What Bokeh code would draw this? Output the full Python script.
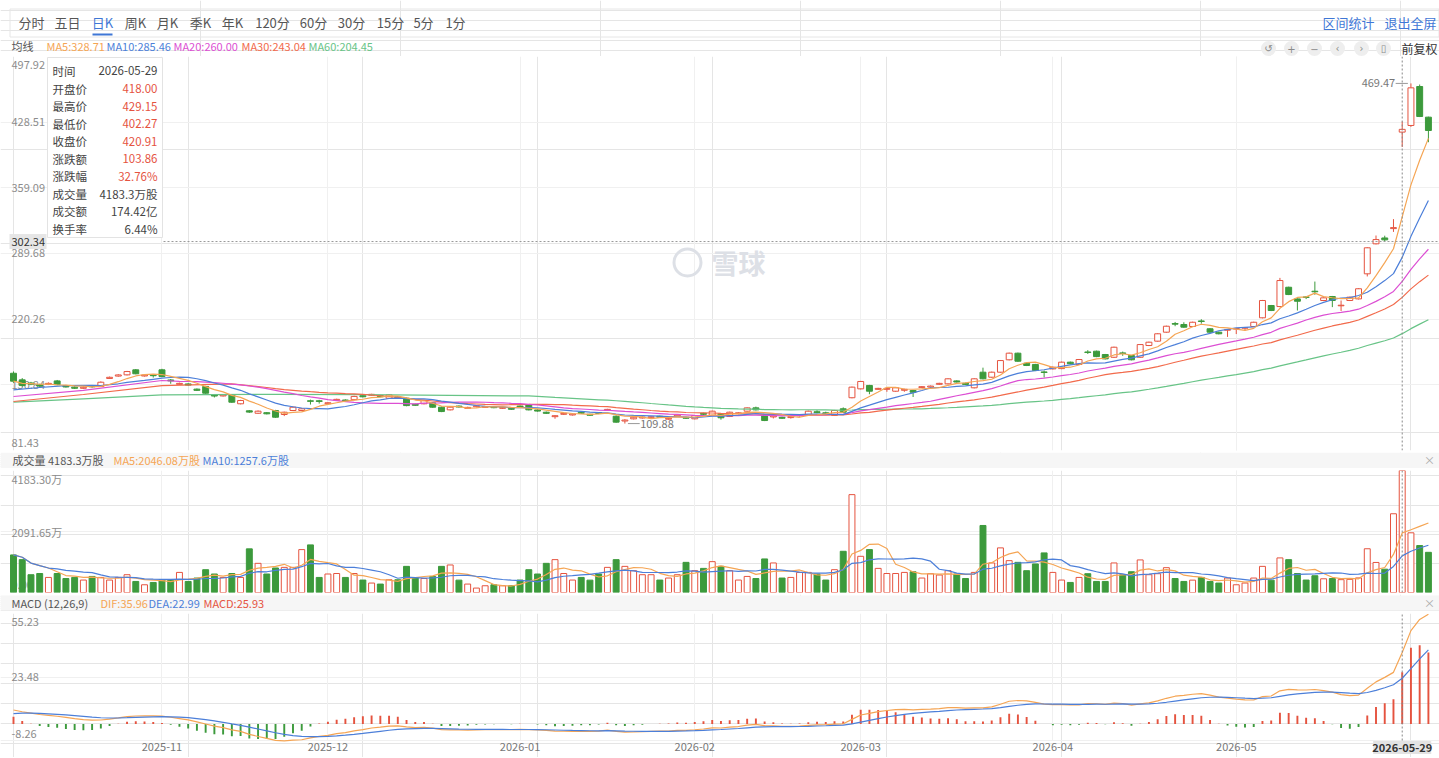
import numpy as np
import pandas as pd
from bokeh.plotting import figure
from bokeh.layouts import column
from bokeh.models import Range1d, FixedTicker, Grid, Span, ColumnDataSource
from bokeh.embed import file_html
from bokeh.resources import INLINE
from bokeh.core.properties import value

FONT = "Noto Sans CJK SC"
W = 1439

# ---------------- data ----------------
opens = [163.1, 156.1, 152.8, 150.8, 151.4, 155.0, 149.8, 148.4, 147.2, 149.3,
         149.0, 157.6, 160.1, 161.4, 166.7, 160.2, 161.0, 166.7, 156.0, 151.4,
         151.8, 146.3, 149.1, 140.2, 139.1, 140.3, 130.8, 123.4, 120.8, 121.4,
         123.7, 119.5, 123.7, 123.7, 134.0, 134.0, 130.9, 134.5, 134.8, 135.2,
         139.4, 139.8, 139.3, 136.7, 138.2, 136.7, 130.2, 130.8, 131.8, 127.2,
         124.4, 128.4, 126.0, 127.7, 127.0, 127.7, 126.0, 126.0, 128.4, 129.7,
         124.3, 121.9, 117.2, 119.7, 119.0, 121.8, 119.7, 121.5, 123.9, 117.7,
         112.6, 114.9, 115.8, 116.1, 117.6, 114.5, 117.9, 116.5, 114.9, 120.7,
         118.5, 120.2, 117.4, 120.3, 123.0, 126.5, 118.4, 116.9, 116.5, 116.2,
         118.0, 118.5, 122.4, 121.3, 118.5, 125.5, 137.2, 146.6, 150.2, 146.1,
         146.1, 144.1, 145.1, 144.8, 147.9, 148.5, 151.4, 151.9, 155.0, 152.5,
         147.7, 164.2, 158.9, 164.2, 177.3, 184.3, 173.7, 172.4, 164.5, 167.7,
         168.0, 174.8, 172.4, 185.6, 186.4, 182.9, 180.0, 184.6, 181.8, 180.0,
         192.4, 197.0, 206.5, 215.6, 214.6, 212.5, 218.4, 210.1, 206.5, 208.6,
         209.8, 210.7, 212.5, 221.7, 234.7, 233.6, 254.0, 241.7, 243.8, 249.8,
         240.0, 244.2, 234.4, 240.0, 241.7, 268.2, 299.9, 306.1, 316.0, 418.00,
         425.0, 466.2, 433.8]
highs = [165.0, 158.0, 154.0, 152.0, 153.4, 156.0, 150.8, 149.3, 149.2, 150.6,
         154.5, 159.6, 162.0, 165.6, 167.5, 162.0, 162.3, 167.8, 157.0, 153.2,
         152.6, 147.0, 149.8, 140.8, 140.8, 141.0, 135.0, 124.2, 123.8, 122.0,
         124.4, 122.5, 127.9, 126.2, 135.2, 135.0, 132.6, 136.2, 135.5, 139.3,
         140.0, 141.4, 140.0, 141.0, 138.9, 137.4, 131.0, 135.0, 132.5, 127.9,
         127.9, 129.0, 127.7, 129.3, 128.6, 128.3, 127.6, 126.6, 129.0, 130.4,
         125.0, 122.6, 118.8, 121.3, 120.6, 122.4, 120.3, 122.1, 125.5, 118.5,
         114.5, 117.3, 117.4, 117.7, 118.2, 116.1, 119.5, 117.1, 119.0, 121.3,
         123.6, 120.8, 122.5, 121.9, 127.1, 127.8, 119.0, 118.5, 117.1, 117.8,
         119.6, 123.6, 124.0, 122.5, 124.3, 127.0, 149.0, 155.0, 150.8, 147.7,
         148.5, 148.3, 146.7, 145.4, 149.5, 150.1, 153.0, 157.8, 155.6, 153.1,
         157.8, 169.0, 164.8, 177.1, 184.9, 184.9, 174.3, 173.0, 166.0, 170.1,
         175.4, 175.4, 178.2, 187.5, 187.0, 183.5, 191.2, 186.0, 182.4, 194.0,
         196.5, 205.4, 213.4, 217.3, 217.0, 217.6, 220.2, 210.7, 207.1, 209.8,
         211.0, 212.0, 217.6, 240.6, 235.3, 263.9, 254.6, 242.3, 244.5, 260.0,
         243.4, 244.8, 240.0, 244.1, 253.0, 296.3, 308.7, 308.5, 326.0, 429.15,
         469.47, 468.3, 434.3]
lows = [153.0, 149.0, 150.5, 148.8, 150.6, 150.4, 148.0, 146.5, 146.6, 147.8,
        148.5, 157.0, 159.5, 160.8, 162.0, 159.6, 158.5, 159.0, 152.0, 150.8,
        150.0, 144.3, 141.4, 137.5, 138.5, 131.8, 130.2, 121.2, 120.2, 119.6,
        116.0, 117.8, 123.2, 123.0, 130.0, 131.0, 130.3, 134.0, 133.2, 134.6,
        137.6, 139.2, 137.8, 136.1, 136.6, 128.2, 128.6, 130.2, 126.6, 122.0,
        123.8, 126.8, 125.4, 127.1, 126.4, 126.1, 125.4, 124.4, 126.8, 123.8,
        122.5, 120.0, 115.0, 119.0, 118.4, 120.2, 118.1, 119.9, 123.3, 110.8,
        109.88, 114.3, 115.2, 115.5, 116.0, 113.9, 117.3, 114.9, 114.3, 119.1,
        118.0, 114.0, 116.8, 119.7, 122.4, 123.8, 112.5, 115.3, 114.9, 115.2,
        117.4, 118.0, 120.8, 119.7, 118.0, 121.3, 136.6, 146.0, 140.9, 145.5,
        143.5, 143.5, 143.5, 138.0, 147.3, 147.9, 150.8, 151.3, 153.2, 150.7,
        147.1, 156.6, 158.3, 163.6, 176.7, 175.2, 170.7, 165.4, 158.5, 167.1,
        167.4, 172.5, 171.8, 183.5, 180.1, 177.7, 179.4, 181.5, 176.7, 179.4,
        191.8, 196.4, 205.9, 212.8, 211.2, 211.9, 215.5, 205.9, 204.2, 201.5,
        204.5, 208.5, 211.9, 221.1, 228.8, 233.0, 245.7, 229.4, 241.5, 246.0,
        239.4, 233.0, 228.9, 239.4, 241.1, 265.4, 299.3, 302.5, 312.5, 402.27,
        423.5, 433.9, 407.3]
closes = [154.7, 150.1, 151.5, 149.6, 152.4, 151.0, 148.6, 147.2, 148.3, 148.8,
          153.6, 158.8, 161.3, 164.9, 162.5, 161.2, 160.5, 159.6, 155.0, 152.4,
          150.6, 145.0, 142.0, 139.0, 140.1, 132.5, 134.3, 122.0, 123.0, 120.2,
          116.6, 121.9, 127.2, 125.5, 133.4, 133.3, 131.9, 135.5, 133.8, 138.6,
          138.2, 140.8, 138.3, 140.3, 137.2, 128.9, 129.2, 134.3, 127.2, 122.6,
          127.2, 127.4, 127.0, 128.7, 128.0, 126.7, 127.0, 125.0, 127.4, 124.4,
          123.1, 120.7, 118.2, 120.7, 120.0, 120.8, 118.7, 120.5, 124.9, 111.4,
          113.6, 116.6, 116.8, 117.1, 116.6, 115.5, 118.9, 115.5, 118.4, 119.7,
          123.0, 116.0, 121.9, 121.3, 126.5, 124.4, 113.1, 117.9, 115.5, 117.2,
          119.0, 123.0, 121.4, 120.3, 123.7, 121.9, 148.4, 154.4, 144.1, 147.1,
          147.1, 147.7, 146.1, 143.0, 148.9, 149.5, 152.4, 157.2, 153.8, 151.3,
          157.2, 157.2, 164.2, 176.5, 184.3, 175.8, 171.3, 166.0, 163.9, 169.5,
          174.8, 173.1, 177.6, 185.0, 180.7, 178.3, 190.6, 184.0, 177.3, 193.4,
          195.9, 204.8, 212.8, 215.0, 211.8, 217.0, 217.8, 206.5, 204.8, 209.2,
          210.4, 211.3, 217.0, 240.0, 229.4, 261.1, 246.3, 239.2, 243.2, 249.2,
          242.8, 240.0, 235.0, 243.5, 252.4, 295.7, 304.4, 304.1, 317.05, 420.91,
          464.8, 434.5, 419.7]
volumes = [1289, 1127, 610, 651, 517, 651, 479, 517, 427, 551,
           517, 427, 517, 610, 379, 265, 345, 437, 427, 689,
           379, 496, 782, 634, 517, 651, 517, 1496, 1000, 634,
           841, 862, 862, 1471, 1633, 517, 634, 651, 517, 651,
           427, 324, 289, 437, 437, 896, 496, 479, 551, 896,
           944, 424, 289, 152, 231, 265, 231, 231, 427, 782,
           634, 1000, 1127, 651, 427, 517, 424, 634, 862, 1127,
           896, 748, 610, 610, 427, 496, 610, 1034, 748, 827,
           1058, 896, 748, 427, 551, 479, 1151, 1013, 496, 517,
           689, 689, 634, 427, 782, 1413, 3356, 1241, 1471, 827,
           651, 651, 689, 712, 496, 644, 600, 748, 634, 479,
           689, 2298, 1013, 1530, 1092, 1034, 748, 979, 1358, 689,
           427, 345, 517, 644, 379, 379, 1013, 610, 712, 1117,
           610, 644, 851, 479, 379, 424, 517, 379, 324, 496,
           265, 324, 496, 896, 424, 1186, 1127, 651, 427, 575,
           470, 480, 440, 450, 500, 1500, 1030, 800, 2700, 4183.3,
           2047, 1609, 1378]

# moving-average lead-in values (before a full window exists)
ma10_lead_idx = [0, 3, 6]
ma10_lead = [145.6, 148.0, 150.1]
ma20_lead_idx = [0, 8, 17]
ma20_lead = [138.5, 144.9, 155.4]
ma30_lead_idx = [0, 8, 17, 25]
ma30_lead = [133.2, 140.6, 150.1, 151.9]
ma60_lead_idx = [0, 8, 17, 30, 40, 50]
ma60_lead = [132.5, 136.1, 140.3, 140.8, 140.5, 139.6]
dif_start = 7.0
dea_start = 5.2

month_ticks = [17, 36, 58, 78, 97, 119, 140]
month_labels = ["2025-11", "2025-12", "2026-01", "2026-02", "2026-03", "2026-04", "2026-05"]
cross_idx = 159
cross_date = "2026-05-29"
cross_price = 302.34
price_ticks = [81.43, 150.84, 220.26, 289.68, 359.09, 428.51, 497.92]
vol_ticks = [0.0, 2091.65, 4183.30]
vol_tick_labels = ["0.00", "2091.65万", "4183.30万"]
macd_ticks = [-8.26, 23.48, 55.23]
max_idx, max_val = 160, 469.47
min_idx, min_val = 70, 109.88

tabs = ["分时", "五日", "日K", "周K", "月K", "季K", "年K", "120分", "60分", "30分", "15分", "5分", "1分"]
tab_x = [31, 67, 102, 135, 167, 200, 232, 272, 313, 351, 390, 423, 455]

# ---------------- colours ----------------
RED = "#e5533f"
GREEN = "#3c9a3c"
GRAY = "#8c8c8c"
GRID = "#f0f0f0"
C_MA5 = "#f5a554"
C_MA10 = "#4c7fd9"
C_MA20 = "#dc4fd3"
C_MA30 = "#f26a4b"
C_MA60 = "#68c487"
BLUE_LINK = "#3f77d6"

n = len(closes)
idx = np.arange(n)
cs = pd.Series(closes)

def ma_line(period, lead_idx, lead_vals):
    roll = cs.rolling(period).mean()
    xs_ = list(lead_idx) + list(range(period - 1, n))
    ys_ = list(lead_vals) + list(roll.values[period - 1:])
    return xs_, ys_

ma5 = cs.rolling(5, min_periods=1).mean().values
ma10x, ma10y = ma_line(10, ma10_lead_idx, ma10_lead)
ma20x, ma20y = ma_line(20, ma20_lead_idx, ma20_lead)
ma30x, ma30y = ma_line(30, ma30_lead_idx, ma30_lead)
ma60x, ma60y = ma_line(60, ma60_lead_idx, ma60_lead)

vs = pd.Series(volumes)
vma5 = vs.rolling(5, min_periods=1).mean().values
vma10 = vs.rolling(10, min_periods=1).mean().values

# MACD (12,26,9)
a12, a26, a9 = 2 / 13, 2 / 27, 2 / 10
e12 = closes[0]
e26 = closes[0] - dif_start
dea = dea_start
difs, deas = [], []
for i, cl in enumerate(closes):
    if i > 0:
        e12 += a12 * (cl - e12)
        e26 += a26 * (cl - e26)
    dif = e12 - e26
    if i > 0:
        dea += a9 * (dif - dea)
    difs.append(dif)
    deas.append(dea)
difs = np.array(difs)
deas = np.array(deas)
hist = 2 * (difs - deas)

# ---------------- geometry helpers ----------------
SP = 8.734
XS = -13.0 / SP
XE = XS + W / SP

def px2i(px):
    return XS + px / SP

P_TOP, P_BOT, P_Y0, P_H = 497.92, 81.43, 56, 394
def py2p(py):
    return P_TOP - (py - P_Y0) * (P_TOP - P_BOT) / P_H

V_TOP = vol_ticks[-1]
def py2v(py):
    return V_TOP * (592 - py) / 122.0

M_LO, M_HI = macd_ticks[0], macd_ticks[-1]
UPP = (M_HI - M_LO) / 127.0          # value per pixel in the MACD plot
M_START = M_LO - 17 * UPP            # 17px strip below for the date labels
def py2m(py):
    return M_HI - (py - 613) * UPP

def txt(p, x, y, s, color, size, align="left", baseline="middle", yoff=0, style="normal"):
    p.text(x=[x], y=[y], text=[s], text_color=color, text_font=value(FONT),
           text_font_size=f"{size}px", text_align=align, text_baseline=baseline,
           y_offset=yoff, text_font_style=style)

def base_fig(h, xr, yr, **kw):
    args = dict(width=W, height=h, x_range=xr, y_range=yr, output_backend="svg",
                toolbar_location=None, x_axis_location=None, y_axis_location=None,
                min_border_left=0, min_border_right=0, min_border_top=0, min_border_bottom=0,
                outline_line_color=None, background_fill_color="white", border_fill_color="white")
    args.update(kw)
    return figure(**args)

def vgrid(extent=None):
    kw = dict(dimension=0, ticker=FixedTicker(ticks=month_ticks), grid_line_color=GRID)
    if extent is not None:
        try:
            return Grid(cross_bounds=extent, **kw)
        except Exception:
            pass
    return Grid(**kw)

xr = Range1d(XS, XE)

# ---------------- header ----------------
hdr = base_fig(56, Range1d(0, W), Range1d(56, 0))
hdr.quad(left=[9.5], right=[1438.5], top=[8.5], bottom=[36.5], fill_color=None, line_color="#e6e6e6")
hdr.text(x=tab_x, y=[22] * len(tabs), text=tabs,
         text_color=["#3f77d6" if t == "日K" else "#555555" for t in tabs],
         text_font=value(FONT), text_font_size="13px", text_align="center", text_baseline="middle")
hdr.segment(x0=[92], y0=[34], x1=[112], y1=[34], line_color="#3f77d6", line_width=2)
txt(hdr, 1322, 22, "区间统计", BLUE_LINK, 13)
txt(hdr, 1384, 22, "退出全屏", BLUE_LINK, 13)
txt(hdr, 11, 45, "均线", "#555555", 11)
txt(hdr, 46, 45, "MA5:328.71", C_MA5, 11)
txt(hdr, 106, 45, "MA10:285.46", C_MA10, 11)
txt(hdr, 173, 45, "MA20:260.00", C_MA20, 11)
txt(hdr, 241, 45, "MA30:243.04", C_MA30, 11)
txt(hdr, 308, 45, "MA60:204.45", C_MA60, 11)
icon_x = [1268, 1291, 1314, 1337, 1361, 1383]
icon_s = ["↺", "+", "−", "‹", "›", "▯"]
hdr.scatter(x=icon_x, y=[48] * 6, size=15, marker="circle", fill_color="#eeeeee", line_color=None)
hdr.text(x=icon_x, y=[48] * 6, text=icon_s, text_color="#8a8a8a", text_font=value("DejaVu Sans"),
         text_font_size="10px", text_align="center", text_baseline="middle")
txt(hdr, 1401, 48, "前复权", "#333333", 12)

# ---------------- price panel ----------------
pf = base_fig(396, xr, Range1d(P_BOT, P_TOP), min_border_bottom=2)
pf.add_layout(Grid(dimension=1, ticker=FixedTicker(ticks=price_ticks), grid_line_color=GRID))
pf.add_layout(vgrid())

lx = px2i(11)
txt(pf, lx, py2p(64), f"{price_ticks[-1]:.2f}", GRAY, 11)
for t in price_ticks[1:-1]:
    txt(pf, lx, t, f"{t:.2f}", GRAY, 11)
txt(pf, lx, py2p(442), f"{price_ticks[0]:.2f}", GRAY, 11)

# watermark
pf.scatter(x=[px2i(687)], y=[py2p(262)], size=27, marker="circle", fill_color=None,
           line_color="#dde0e6", line_width=3)
txt(pf, px2i(711), py2p(262), "雪球", "#dde0e6", 27, style="bold")

up = [closes[i] >= opens[i] for i in range(n)]
col = [RED if u else GREEN for u in up]
fill = ["white" if u else GREEN for u in up]
src = ColumnDataSource(dict(x=idx, o=opens, h=highs, l=lows, c=closes,
                            top=np.maximum(opens, closes), bot=np.minimum(opens, closes),
                            col=col, fill=fill, vol=volumes))
pf.segment(x0="x", y0="l", x1="x", y1="h", line_color="col", line_width=1, source=src)
pf.vbar(x="x", width=0.68, top="top", bottom="bot", fill_color="fill", line_color="col",
        line_width=1, source=src)

pf.line(ma60x, ma60y, line_color=C_MA60, line_width=1.2)
pf.line(ma30x, ma30y, line_color=C_MA30, line_width=1.2)
pf.line(ma20x, ma20y, line_color=C_MA20, line_width=1.2)
pf.line(ma10x, ma10y, line_color=C_MA10, line_width=1.2)
pf.line(idx, ma5, line_color=C_MA5, line_width=1.2)

# max / min markers
pf.segment(x0=[max_idx - 1.75], y0=[max_val], x1=[max_idx - 0.35], y1=[max_val], line_color="#999999")
txt(pf, max_idx - 1.8, max_val, f"{max_val:.2f}", "#777777", 11, align="right")
pf.segment(x0=[min_idx + 0.35], y0=[min_val], x1=[min_idx + 1.7], y1=[min_val], line_color="#999999")
txt(pf, min_idx + 1.75, min_val, f"{min_val:.2f}", "#777777", 11)

# crosshair
pf.add_layout(Span(location=cross_idx, dimension="height", line_color="#888888", line_dash="2 2", line_width=1))
pf.segment(x0=[px2i(163)], y0=[cross_price], x1=[XE], y1=[cross_price], line_color="#999999",
           line_dash="2 2", line_width=1)
pf.quad(left=[px2i(9)], right=[px2i(46)], top=[py2p(233.5)], bottom=[py2p(248.5)],
        fill_color="#e6e6e6", line_color=None)
txt(pf, px2i(11), cross_price, f"{cross_price:.2f}", "#333333", 11)

# tooltip box
pf.quad(left=[px2i(47)], right=[px2i(162)], top=[py2p(57)], bottom=[py2p(237)],
        fill_color="white", line_color="#e3e3e3")
k = cross_idx
chg = closes[k] - closes[k - 1]
rows = [("时间", cross_date, "#444444"),
        ("开盘价", f"{opens[k]:.2f}", RED),
        ("最高价", f"{highs[k]:.2f}", RED),
        ("最低价", f"{lows[k]:.2f}", RED),
        ("收盘价", f"{closes[k]:.2f}", RED),
        ("涨跌额", f"{chg:.2f}", RED),
        ("涨跌幅", f"{chg / closes[k - 1] * 100:.2f}%", RED),
        ("成交量", f"{volumes[k]:.1f}万股", "#444444"),
        ("成交额", "174.42亿", "#444444"),
        ("换手率", "6.44%", "#444444")]
row_y = [70, 88, 105.5, 123, 140.5, 158, 175.5, 193, 210.5, 228]
for (lab, val, vc), ry in zip(rows, row_y):
    txt(pf, px2i(52), py2p(ry), lab, "#444444", 11.5)
    txt(pf, px2i(157), py2p(ry), val, vc, 11.5, align="right")

# ---------------- volume band ----------------
vb = base_fig(16, Range1d(0, W), Range1d(468, 452))
vb.quad(left=[0], right=[W], top=[452], bottom=[468], fill_color="#f6f6f6", line_color=None)
txt(vb, 12, 459.5, f"成交量 {volumes[k]:.1f}万股", "#555555", 11)
txt(vb, 113, 459.5, "MA5:2046.08万股", C_MA5, 11)
txt(vb, 202, 459.5, "MA10:1257.6万股", C_MA10, 11)
txt(vb, 1429, 459.5, "×", "#aaaaaa", 11, align="center")

# ---------------- volume panel ----------------
vf = base_fig(126, xr, Range1d(0, V_TOP), min_border_top=2, min_border_bottom=2)
vf.add_layout(Grid(dimension=1, ticker=FixedTicker(ticks=vol_ticks), grid_line_color=GRID))
vf.add_layout(vgrid())
txt(vf, lx, py2v(478), vol_tick_labels[2], GRAY, 11)
txt(vf, lx, vol_ticks[1], vol_tick_labels[1], GRAY, 11)
txt(vf, lx, py2v(584), vol_tick_labels[0], GRAY, 11)
vf.vbar(x="x", width=0.68, top="vol", bottom=0, fill_color="fill", line_color="col",
        line_width=1, source=src)
vf.line(idx, vma5, line_color=C_MA5, line_width=1.2)
vf.line(idx, vma10, line_color=C_MA10, line_width=1.2)
vf.add_layout(Span(location=cross_idx, dimension="height", line_color="#888888", line_dash="2 2", line_width=1))

# ---------------- MACD band ----------------
mb = base_fig(17, Range1d(0, W), Range1d(611, 594))
mb.quad(left=[0], right=[W], top=[595], bottom=[610], fill_color="#f6f6f6", line_color=None)
txt(mb, 11, 602.5, "MACD (12,26,9)", "#555555", 11)
txt(mb, 100, 602.5, "DIF:35.96", C_MA5, 11)
txt(mb, 148, 602.5, "DEA:22.99", C_MA10, 11)
txt(mb, 203, 602.5, "MACD:25.93", RED, 11)
txt(mb, 1429, 602.5, "×", "#aaaaaa", 11, align="center")

# ---------------- MACD panel (with date-label strip at the bottom) ----------------
mf = base_fig(146, xr, Range1d(M_START, M_HI), min_border_top=2)
mf.add_layout(Grid(dimension=1, ticker=FixedTicker(ticks=macd_ticks), grid_line_color=GRID))
mf.add_layout(vgrid((M_LO, M_HI)))
txt(mf, lx, py2m(621), f"{macd_ticks[2]:.2f}", GRAY, 11)
txt(mf, lx, macd_ticks[1], f"{macd_ticks[1]:.2f}", GRAY, 11)
txt(mf, lx, py2m(733), f"{macd_ticks[0]:.2f}", GRAY, 11)
hcol = [RED if h >= 0 else GREEN for h in hist]
mf.vbar(x=idx, width=0.22, top=hist, bottom=0, fill_color=hcol, line_color=None)
mf.line(idx, difs, line_color=C_MA5, line_width=1.2)
mf.line(idx, deas, line_color=C_MA10, line_width=1.2)
mf.segment(x0=[cross_idx], y0=[M_LO], x1=[cross_idx], y1=[M_HI], line_color="#888888",
           line_dash="2 2", line_width=1)
# date labels of the time axis
lab_y = M_LO - 6.5 * UPP
mf.text(x=month_ticks, y=[lab_y] * len(month_ticks), text=month_labels, text_color="#777777",
        text_font=value(FONT), text_font_size="11px", text_align="center", text_baseline="middle")
mf.quad(left=[cross_idx - 29 / SP], right=[cross_idx + 29 / SP], top=[M_LO - 0.5 * UPP],
        bottom=[M_LO - 13.5 * UPP], fill_color="#e3e3e3", line_color=None)
mf.text(x=[cross_idx], y=[lab_y], text=[cross_date], text_color="#333333", text_font=value(FONT),
        text_font_size="11px", text_align="center", text_baseline="middle", text_font_style="bold")

layout = column(hdr, pf, vb, vf, mb, mf)
open("out.html", "w").write(file_html(layout, INLINE))
